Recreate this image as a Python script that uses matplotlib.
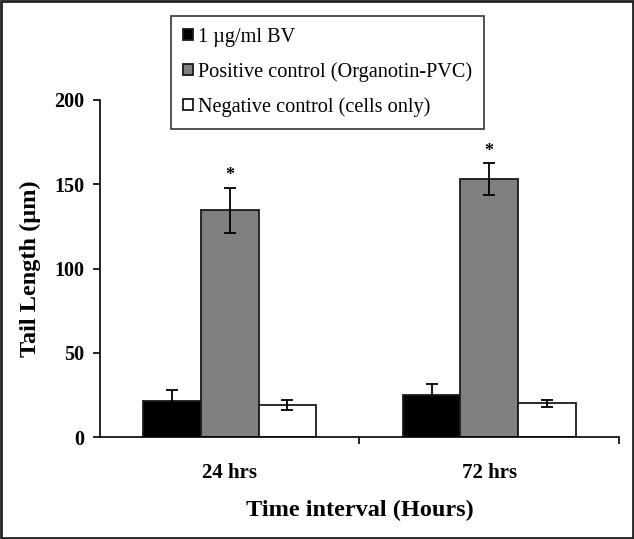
import matplotlib
matplotlib.use("Agg")
import matplotlib.pyplot as plt
import numpy as np

plt.rcParams["font.family"] = ["Liberation Serif", "DejaVu Serif"]

# data
timepoints = ["24 hrs", "72 hrs"]
series_names = [
	"1 \u00b5g/ml BV",
	"Positive control (Organotin-PVC)",
	"Negative control (cells only)",
]
bv_means = [21.5, 25.0]
bv_errs = [6.5, 6.5]
positive_means = [134.5, 153.0]
positive_errs = [13.5, 9.5]
negative_means = [19.0, 20.0]
negative_errs = [3.0, 2.0]
significant = [False, True, False]  # star above positive control

colors = ["#000000", "#808080", "#ffffff"]

fig = plt.figure(figsize=(6.34, 5.39), dpi=100)
ax = fig.add_axes([0.1577, 0.1892, 0.8186, 0.6253])

x = np.arange(len(timepoints))
width = 0.222
means = [bv_means, positive_means, negative_means]
errs = [bv_errs, positive_errs, negative_errs]

handles = []
for i, (m, e) in enumerate(zip(means, errs)):
	pos = x + (i - 1) * width
	b = ax.bar(pos, m, width, color=colors[i], edgecolor="#1a1a1a", linewidth=1.3,
			   label=series_names[i], zorder=2)
	ax.errorbar(pos, m, yerr=e, fmt="none", ecolor="black", elinewidth=1.3,
				capsize=4, capthick=1.3, zorder=3)
	handles.append(b)
	if significant[i]:
		for p, mv, ev in zip(pos, m, e):
			ax.text(p, mv + ev + 2, "*", ha="center", va="bottom",
					fontsize=13, fontweight="bold")

ax.set_xlim(-0.5, 1.5)
ax.set_ylim(0, 200)
ax.set_yticks([0, 50, 100, 150, 200])
ax.set_xticks(x)
ax.set_xticklabels(timepoints, fontsize=15, fontweight="bold")
ax.set_xticks([0.5, 1.5], minor=True)
ax.tick_params(axis="x", which="major", length=0, pad=19)
ax.tick_params(axis="x", which="minor", length=5, width=1.2, direction="out")
ax.tick_params(axis="y", length=5, width=1.2, direction="out", labelsize=14.5, pad=6)
for lbl in ax.get_yticklabels():
	lbl.set_fontweight("bold")

ax.spines["top"].set_visible(False)
ax.spines["right"].set_visible(False)
ax.spines["left"].set_linewidth(1.2)
ax.spines["bottom"].set_linewidth(1.2)

ax.set_ylabel("Tail Length (\u00b5m)", fontsize=17.5, fontweight="bold", labelpad=10)
ax.set_xlabel("Time interval (Hours)", fontsize=17.5, fontweight="bold", labelpad=12)

leg = fig.legend(handles=handles, loc="upper left", bbox_to_anchor=(0.27, 0.971),
				 fontsize=14.6, frameon=True, fancybox=False, edgecolor="black",
				 handlelength=0.5, handleheight=0.5, handletextpad=0.2,
				 labelspacing=0.75, borderpad=0.6, borderaxespad=0)
leg.get_frame().set_linewidth(1.2)

# outer border around the figure
fig.patches.append(plt.Rectangle((0.002, 0.002), 0.996, 0.996, transform=fig.transFigure,
								 fill=False, edgecolor="#222222", linewidth=2))

fig.savefig("out.png", dpi=100)
